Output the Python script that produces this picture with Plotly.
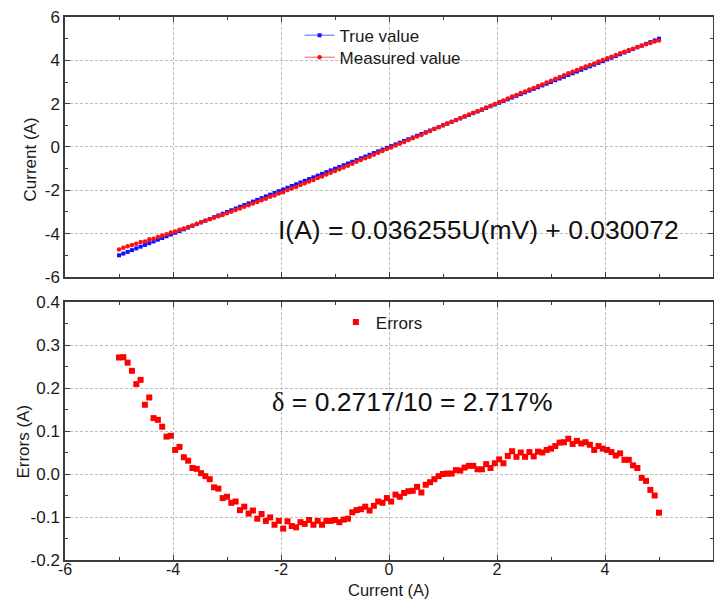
import plotly.graph_objects as go

# Current sweep setpoints (A)
true_current = [
    -5.00, -4.92, -4.84, -4.76, -4.68, -4.60, -4.52, -4.44, -4.36, -4.28,
    -4.20, -4.12, -4.04, -3.96, -3.88, -3.80, -3.72, -3.64, -3.56, -3.48,
    -3.40, -3.32, -3.24, -3.16, -3.08, -3.00, -2.92, -2.84, -2.76, -2.68,
    -2.60, -2.52, -2.44, -2.36, -2.28, -2.20, -2.12, -2.04, -1.96, -1.88,
    -1.80, -1.72, -1.64, -1.56, -1.48, -1.40, -1.32, -1.24, -1.16, -1.08,
    -1.00, -0.92, -0.84, -0.76, -0.68, -0.60, -0.52, -0.44, -0.36, -0.28,
    -0.20, -0.12, -0.04, 0.04, 0.12, 0.20, 0.28, 0.36, 0.44, 0.52,
    0.60, 0.68, 0.76, 0.84, 0.92, 1.00, 1.08, 1.16, 1.24, 1.32,
    1.40, 1.48, 1.56, 1.64, 1.72, 1.80, 1.88, 1.96, 2.04, 2.12,
    2.20, 2.28, 2.36, 2.44, 2.52, 2.60, 2.68, 2.76, 2.84, 2.92,
    3.00, 3.08, 3.16, 3.24, 3.32, 3.40, 3.48, 3.56, 3.64, 3.72,
    3.80, 3.88, 3.96, 4.04, 4.12, 4.20, 4.28, 4.36, 4.44, 4.52,
    4.60, 4.68, 4.76, 4.84, 4.92, 5.00,
]

# Measurement error at each setpoint (A): measured - true
errors = [
    0.2710, 0.2717, 0.259, 0.240, 0.209, 0.219, 0.161, 0.178, 0.130, 0.126,
    0.110, 0.087, 0.089, 0.056, 0.063, 0.039, 0.031, 0.014, 0.012, 0.002,
    -0.005, -0.012, -0.031, -0.034, -0.056, -0.053, -0.067, -0.064, -0.084, -0.076,
    -0.092, -0.085, -0.104, -0.093, -0.109, -0.101, -0.118, -0.109, -0.127, -0.110,
    -0.121, -0.124, -0.112, -0.116, -0.107, -0.118, -0.109, -0.118, -0.109, -0.109,
    -0.107, -0.112, -0.106, -0.104, -0.089, -0.084, -0.082, -0.076, -0.085, -0.074,
    -0.064, -0.067, -0.056, -0.064, -0.048, -0.053, -0.044, -0.040, -0.039, -0.030,
    -0.043, -0.025, -0.019, -0.012, -0.005, 0.000, 0.001, 0.001, 0.009, 0.008,
    0.015, 0.019, 0.019, 0.011, 0.011, 0.023, 0.014, 0.025, 0.034, 0.025,
    0.042, 0.053, 0.040, 0.050, 0.040, 0.051, 0.041, 0.052, 0.050, 0.056,
    0.059, 0.065, 0.073, 0.074, 0.082, 0.070, 0.077, 0.071, 0.074, 0.068,
    0.056, 0.065, 0.059, 0.056, 0.051, 0.043, 0.048, 0.033, 0.033, 0.020,
    0.014, -0.009, -0.016, -0.037, -0.050, -0.090,
]

# Measured current = true current + error
measured_current = [t + e for t, e in zip(true_current, errors)]

x_tick_vals = [-6, -4, -2, 0, 2, 4, 6]
x_tick_text = ["-6", "-4", "-2", "0", "2", "4", "6"]
y1_tick_vals = [-6, -4, -2, 0, 2, 4, 6]
y1_tick_text = ["-6", "-4", "-2", "0", "2", "4", "6"]
y2_tick_vals = [-0.2, -0.1, 0.0, 0.1, 0.2, 0.3, 0.4]
y2_tick_text = ["-0.2", "-0.1", "0.0", "0.1", "0.2", "0.3", "0.4"]

fit_text = "I(A) = 0.036255U(mV) + 0.030072"
delta_text = ('<span style="font-family:\'Liberation Serif\', serif">δ</span>'
              " = 0.2717/10 = 2.717%")

FONT = "Liberation Sans, Arial, sans-serif"
FRAME = "#3c3c3c"
GRID = "#bdbdbd"

fig = go.Figure()

fig.add_trace(go.Scatter(
    x=true_current, y=true_current, mode="lines+markers", name="True value",
    line=dict(color="rgba(110,110,255,0.75)", width=1.5),
    marker=dict(symbol="square", size=4, color="#1010ff"),
    xaxis="x", yaxis="y", legend="legend",
))
fig.add_trace(go.Scatter(
    x=true_current, y=measured_current, mode="lines+markers", name="Measured value",
    line=dict(color="rgba(255,110,110,0.75)", width=1.5),
    marker=dict(symbol="circle", size=4.5, color="#ff1010"),
    xaxis="x", yaxis="y", legend="legend3",
))
fig.add_trace(go.Scatter(
    x=true_current, y=errors, mode="markers", name="Errors",
    marker=dict(symbol="square", size=6, color="#ff0000"),
    xaxis="x2", yaxis="y2", legend="legend2",
))

axis_common = dict(
    showline=True, linecolor=FRAME, linewidth=1.5, mirror="ticks",
    ticks="inside", ticklen=5, tickwidth=1.2, tickcolor=FRAME,
    showgrid=True, gridcolor=GRID, gridwidth=1, griddash="3px,2px",
    zeroline=False, automargin=False,
    tickfont=dict(family=FONT, size=17, color="#1a1a1a"),
)
minor_unit = dict(dtick=1, ticks="inside", ticklen=3, tickcolor=FRAME, showgrid=False)

legend_common = dict(xanchor="left", yanchor="middle", bgcolor="rgba(0,0,0,0)",
                     font=dict(family=FONT, size=17, color="#1a1a1a"))

fig.update_layout(
    width=714, height=599,
    margin=dict(l=65, r=1, t=17, b=39),
    paper_bgcolor="white", plot_bgcolor="white",
    font=dict(family=FONT, size=17, color="#1a1a1a"),
    xaxis=dict(axis_common, domain=[0, 1], anchor="y", range=[-6, 6],
               tickvals=x_tick_vals, ticktext=x_tick_text, showticklabels=False,
               minor=minor_unit),
    yaxis=dict(axis_common, domain=[0.5212, 1], anchor="x", range=[-6, 6],
               tickvals=y1_tick_vals, ticktext=y1_tick_text, minor=minor_unit),
    xaxis2=dict(axis_common, domain=[0, 1], anchor="y2", range=[-6, 6],
                tickvals=x_tick_vals, ticktext=x_tick_text, ticklabelstandoff=-6,
                tickfont=dict(family=FONT, size=16, color="#1a1a1a"),
                minor=minor_unit),
    yaxis2=dict(axis_common, domain=[0, 0.4751], anchor="x2", range=[-0.2, 0.4],
                tickvals=y2_tick_vals, ticktext=y2_tick_text,
                minor=dict(dtick=0.05, ticks="inside", ticklen=3, tickcolor=FRAME, showgrid=False)),
    legend=dict(legend_common, x=0.362, y=(560 - 35.7) / 543),
    legend3=dict(legend_common, x=0.362, y=(560 - 57.7) / 543),
    legend2=dict(legend_common, x=0.418, y=(560 - 322.5) / 543),
    showlegend=True,
)

annotations = [
    dict(text=fit_text, x=1.65, y=-3.84, xref="x", yref="y", showarrow=False,
         font=dict(family=FONT, size=26.5, color="#111111")),
    dict(text=delta_text, x=0.43, y=0.1665, xref="x2", yref="y2", showarrow=False,
         font=dict(family=FONT, size=26.5, color="#111111")),
    dict(text="Current (A)", x=-0.054, y=0.7376, xref="paper", yref="paper",
         xanchor="center", yanchor="middle",
         textangle=-90, showarrow=False, font=dict(family=FONT, size=17)),
    dict(text="Errors (A)", x=-0.0633, y=0.218, xref="paper", yref="paper",
         xanchor="center", yanchor="middle",
         textangle=-90, showarrow=False, font=dict(family=FONT, size=17)),
    dict(text="Current (A)", x=0.5, y=(560 - 589.5) / 543, xref="paper", yref="paper",
         xanchor="center", yanchor="middle",
         showarrow=False, font=dict(family=FONT, size=16.5)),
]
fig.update_layout(annotations=annotations)

fig.write_html("out.html")
